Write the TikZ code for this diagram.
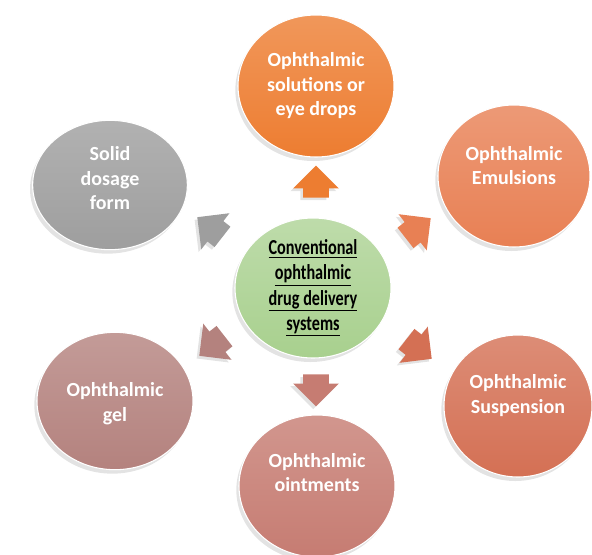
\documentclass[tikz,border=0pt]{standalone}
\usepackage{fontspec}
\setmainfont{Carlito}
\newfontfamily\condfont[FakeStretch=0.76]{Carlito}
\usepackage{tikz}
\usetikzlibrary{shapes.geometric}
\usetikzlibrary{shapes.arrows}
\usetikzlibrary{shadows}
\definecolor{drops}{RGB}{237,125,49}
\definecolor{emul}{RGB}{232,128,84}
\definecolor{susp}{RGB}{212,112,84}
\definecolor{oint}{RGB}{198,124,114}
\definecolor{gel}{RGB}{180,130,126}
\definecolor{solid}{RGB}{158,158,158}
\definecolor{hub}{RGB}{168,208,142}
\tikzstyle{disc}=[ellipse, draw=white, line width=0.8pt, inner sep=0pt, minimum width=117pt, minimum height=106.5pt, drop shadow={shadow xshift=-2pt, shadow yshift=-3pt, opacity=0.22}]
\tikzstyle{caption}=[text=white, align=center, font=\bfseries\fontsize{15}{18.4}\selectfont]
\tikzstyle{pointer}=[single arrow, inner xsep=0pt, inner ysep=9.5pt, minimum width=34pt, minimum height=24pt, single arrow head extend=7.5pt, single arrow head indent=0pt, drop shadow={shadow xshift=-2pt, shadow yshift=-2pt, opacity=0.22}]

\begin{document}
\begin{tikzpicture}[x=0.75pt, y=-0.75pt]
        \useasboundingbox (0,0) rectangle (592,554);
        \node[disc, minimum width=117pt, minimum height=105pt, top color=hub!75!white, bottom color=hub,
              align=center, font=\condfont\bfseries\fontsize{16}{18.8}\selectfont] (C) at (313,288)
              {\underline{Conventional}\\\underline{ophthalmic}\\\underline{drug delivery}\\\underline{systems}};
        \node[disc, top color=drops!80!white, bottom color=drops,
              label={[caption]center:Ophthalmic\\solutions or\\eye drops}] (Drops) at (316,86) {};
        \node[disc, minimum width=114pt, top color=emul!80!white, bottom color=emul,
              label={[caption, yshift=8pt]center:Ophthalmic\\Emulsions}] (Emul) at (514,176) {};
        \node[disc, minimum width=111pt, top color=susp!80!white, bottom color=susp,
              label={[caption, yshift=8pt]center:Ophthalmic\\Suspension}] (Susp) at (518,406) {};
        \node[disc, top color=oint!80!white, bottom color=oint,
              label={[caption, yshift=10pt]center:Ophthalmic\\ointments}] (Oint) at (317,486) {};
        \node[disc, minimum height=103pt, top color=gel!80!white, bottom color=gel,
              label={[caption, yshift=-2pt]center:Ophthalmic\\gel}] (Gel) at (115,401) {};
        \node[disc, minimum width=116pt, minimum height=97pt, top color=solid!80!white, bottom color=solid,
              label={[caption, yshift=5pt]center:Solid\\dosage\\form}] (Solid) at (110,185) {};
        % pointers from the hub
        \node[pointer, fill=drops, rotate=90] (aDrops) at (316,188) {};
        \node[pointer, fill=emul, rotate=38] (aEmul) at (413,232) {};
        \node[pointer, fill=susp, rotate=-38] (aSusp) at (414,345) {};
        \node[pointer, fill=oint, rotate=-90] (aOint) at (316,384) {};
        \node[pointer, fill=gel, rotate=-142] (aGel) at (217,342) {};
        \node[pointer, fill=solid, rotate=142] (aSolid) at (215,231) {};
    \end{tikzpicture}
\end{document}
